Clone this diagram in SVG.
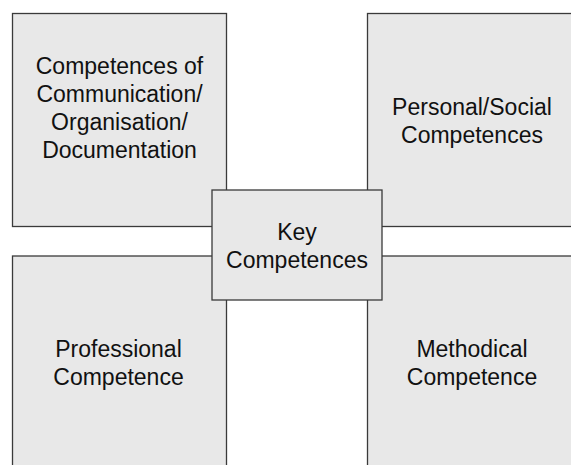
<svg xmlns="http://www.w3.org/2000/svg" width="571" height="465" viewBox="0 0 571 465">
  <style>
    .box { fill: #e8e8e8; stroke: #3a3a3a; stroke-width: 1.3; }
    .lbl { font-family: "Liberation Sans", Arial, sans-serif; font-size: 23px; fill: #111; text-anchor: middle; }
  </style>
  <rect width="571" height="465" fill="#ffffff"/>
  <g id="connectors"></g>
  <g id="communication">
    <rect class="box" x="12.5" y="13.5" width="214" height="213"/>
    <text class="lbl" x="119.5" y="74">Competences of</text>
    <text class="lbl" x="119.5" y="102">Communication/</text>
    <text class="lbl" x="119.5" y="130">Organisation/</text>
    <text class="lbl" x="119.5" y="158">Documentation</text>
  </g>
  <g id="personal-social">
    <rect class="box" x="367.5" y="13.5" width="214" height="213"/>
    <text class="lbl" x="472" y="115">Personal/Social</text>
    <text class="lbl" x="472" y="143">Competences</text>
  </g>
  <g id="professional">
    <rect class="box" x="12.5" y="256" width="214" height="220"/>
    <text class="lbl" x="118.5" y="357">Professional</text>
    <text class="lbl" x="118.5" y="385">Competence</text>
  </g>
  <g id="methodical">
    <rect class="box" x="367.5" y="256" width="214" height="220"/>
    <text class="lbl" x="472" y="357">Methodical</text>
    <text class="lbl" x="472" y="385">Competence</text>
  </g>
  <g id="key">
    <rect class="box" x="212" y="190" width="170" height="110"/>
    <text class="lbl" x="297" y="240">Key</text>
    <text class="lbl" x="297" y="268">Competences</text>
  </g>
</svg>
